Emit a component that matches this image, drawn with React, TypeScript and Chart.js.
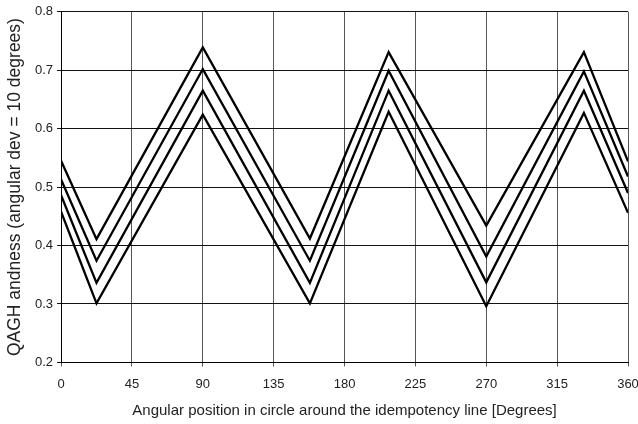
import React, { useEffect, useRef } from "react";
import { Chart, registerables } from "chart.js";

Chart.register(...registerables);

const xPositions = [0, 22.5, 90, 158, 208, 270, 332, 360];
const series1 = [0.545, 0.411, 0.739, 0.412, 0.731, 0.434, 0.731, 0.544];
const series2 = [0.513, 0.374, 0.702, 0.374, 0.699, 0.381, 0.698, 0.518];
const series3 = [0.486, 0.336, 0.665, 0.336, 0.665, 0.337, 0.665, 0.49];
const series4 = [0.458, 0.301, 0.624, 0.301, 0.629, 0.296, 0.627, 0.456];
const allSeries = [series1, series2, series3, series4];

const xTitle = "Angular position in circle around the idempotency line [Degrees]";
const yTitle = "QAGH andness (angular dev = 10 degrees)";

export default function App() {
  const ref = useRef<HTMLCanvasElement | null>(null);
  useEffect(() => {
    if (!ref.current) return;
    const font = "'Liberation Sans', Arial, sans-serif";
    const chart = new Chart(ref.current, {
      type: "line",
      data: {
        datasets: allSeries.map((s, i) => ({
          label: "s" + (i + 1),
          data: s.map((v, j) => ({ x: xPositions[j], y: v })),
          borderColor: "#000",
          borderWidth: 2.3,
          pointRadius: 0,
          tension: 0,
          fill: false,
        })),
      },
      options: {
        animation: false,
        responsive: false,
        maintainAspectRatio: false,
        layout: { padding: { top: 2, right: 10, bottom: 4, left: 5 } },
        plugins: { legend: { display: false }, tooltip: { enabled: false } },
        scales: {
          x: {
            type: "linear",
            min: 0,
            max: 360,
            afterFit: (scale: any) => {
              scale.paddingRight = 0;
            },
            ticks: { stepSize: 45, color: "#222", font: { family: font, size: 13 }, padding: 10, maxRotation: 0 },
            grid: { color: "#555", lineWidth: 1, tickLength: 4, drawTicks: true },
            border: { color: "#000", width: 1 },
            title: { display: true, text: xTitle, color: "#222", font: { family: font, size: 15 }, padding: { top: 0, bottom: 0 } },
          },
          y: {
            min: 0.2,
            max: 0.8,
            ticks: { stepSize: 0.1, color: "#222", font: { family: font, size: 13 }, padding: 4, callback: (v: any) => Number(v).toFixed(1) },
            grid: { color: "#111", lineWidth: 1, tickLength: 4, drawTicks: true },
            border: { color: "#000", width: 1 },
            title: { display: true, text: yTitle, color: "#222", font: { family: font, size: 17.5 }, padding: { top: 0, bottom: 5 } },
          },
        },
      },
    });
    return () => chart.destroy();
  }, []);
  return (
    <div style={{ position: "fixed", left: 0, top: 0, width: 638, height: 424, background: "#fff", overflow: "hidden" }}>
      <canvas ref={ref} width={638} height={424} style={{ width: 638, height: 424, display: "block" }} />
    </div>
  );
}
